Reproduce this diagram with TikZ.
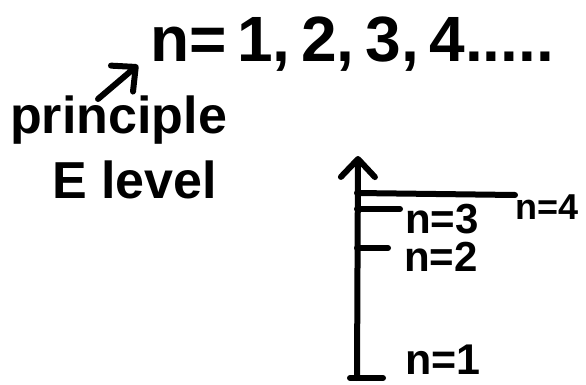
\documentclass[tikz,border=0pt]{standalone}
\usepackage{fontspec}
\setmainfont{Liberation Sans}
\usetikzlibrary{arrows.meta}
\tikzset{
  ink/.style={line width=6pt, line cap=round, line join=round},
  barb/.style={-{Straight Barb[round,length=18pt,width=34pt,line width=6pt]}},
  txt/.style={inner sep=0pt, anchor=base west, font=\bfseries},
}
\begin{document}
\begin{tikzpicture}[x=1pt,y=-1pt]
\useasboundingbox (0,0) rectangle (586,385);
% texts
\node[txt, font=\bfseries\fontsize{64}{64}\selectfont] (top) at (150,62) {n=\,1,\,2,\,3,\,4.....};
\node[txt, font=\bfseries\fontsize{52}{52}\selectfont] (princ) at (10,133) {principle};
\node[txt, font=\bfseries\fontsize{52}{52}\selectfont] (elev) at (52,198) {E level};
% arrow from label to n
\coordinate (a1) at (98,99);
\coordinate (a2) at (138,65);
\draw[ink, barb] (a1) -- (a2);
% energy axis
\coordinate (axb) at (357,378);
\coordinate (axt) at (358,156);
\draw[ink, barb] (axb) -- (axt);
% levels
\coordinate (l4a) at (357,193); \coordinate (l4b) at (515,195);
\coordinate (l3a) at (357,209); \coordinate (l3b) at (400,209);
\coordinate (l2a) at (357,248); \coordinate (l2b) at (388,248);
\coordinate (l1a) at (350,378); \coordinate (l1b) at (383,378);
\draw[ink] (l4a) -- (l4b);
\draw[ink] (l3a) -- (l3b);
\draw[ink] (l2a) -- (l2b);
\draw[ink] (l1a) -- (l1b);
\node[txt, font=\bfseries\fontsize{36}{36}\selectfont] (n4) at (515,219) {n=4};
\node[txt, font=\bfseries\fontsize{42}{42}\selectfont] (n3) at (405,233) {n=3};
\node[txt, font=\bfseries\fontsize{42}{42}\selectfont] (n2) at (404,271) {n=2};
\node[txt, font=\bfseries\fontsize{43}{43}\selectfont] (n1) at (405,374) {n=1};
\end{tikzpicture}
\end{document}
